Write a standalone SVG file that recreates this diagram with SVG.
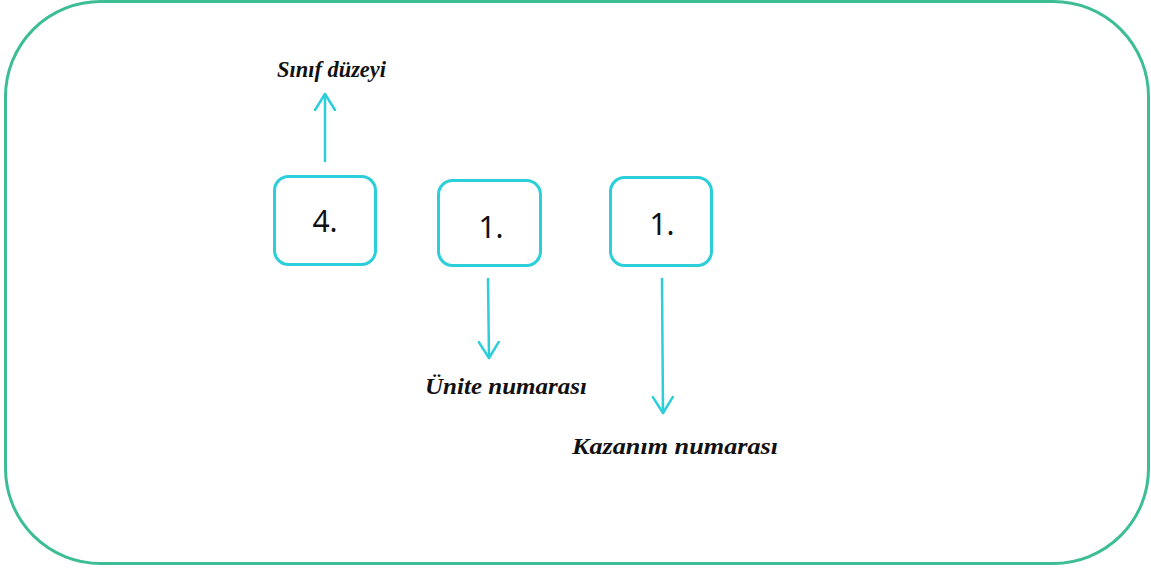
<svg xmlns="http://www.w3.org/2000/svg" width="1151" height="569" viewBox="0 0 1151 569">
<style>
.frame{fill:#fff;stroke:#3dbd96;stroke-width:3}
.box{fill:#fff;stroke:#2ccfd9;stroke-width:3}
.num{font-family:"Noto Sans","Open Sans",sans-serif;font-size:30px;fill:#111;text-anchor:middle}
.lbl{font-family:"Liberation Serif",serif;font-style:italic;font-weight:bold;font-size:23px;fill:#111}
.arr{stroke:#2ccfd9;stroke-width:2.5;fill:none;stroke-linecap:round}
</style>
<defs>
<marker id="ah" markerWidth="24" markerHeight="24" refX="17" refY="11" orient="auto" markerUnits="userSpaceOnUse">
<path d="M1,1 L17,11 L1,21" fill="none" stroke="#2ccfd9" stroke-width="2.5" stroke-linecap="round" stroke-linejoin="round"/>
</marker>
</defs>
<rect class="frame" x="5.5" y="1.5" width="1143" height="562" rx="95" ry="95"/>
<g id="node-sinif">
<rect class="box" x="274.5" y="176.5" width="101" height="88" rx="14"/>
<text class="num" x="325" y="232">4.</text>
</g>
<g id="node-unite">
<rect class="box" x="438.5" y="180.5" width="102" height="85" rx="14"/>
<text class="num" x="491" y="238">1.</text>
</g>
<g id="connectors">
<line class="arr" x1="325" y1="161" x2="325" y2="94" marker-end="url(#ah)"/>
<line class="arr" x1="488" y1="279" x2="489" y2="358" marker-end="url(#ah)"/>
<line class="arr" x1="662" y1="279" x2="663" y2="413" marker-end="url(#ah)"/>
</g>
<g id="node-kazanim">
<rect class="box" x="610.5" y="177.5" width="101" height="88" rx="14"/>
<text class="num" x="662" y="235">1.</text>
</g>
<g id="labels">
<text class="lbl" x="277" y="77" textLength="109" lengthAdjust="spacingAndGlyphs">Sınıf düzeyi</text>
<text class="lbl" x="425" y="394" textLength="162" lengthAdjust="spacingAndGlyphs">Ünite numarası</text>
<text class="lbl" x="572" y="454" textLength="206" lengthAdjust="spacingAndGlyphs">Kazanım numarası</text>
</g>
</svg>
